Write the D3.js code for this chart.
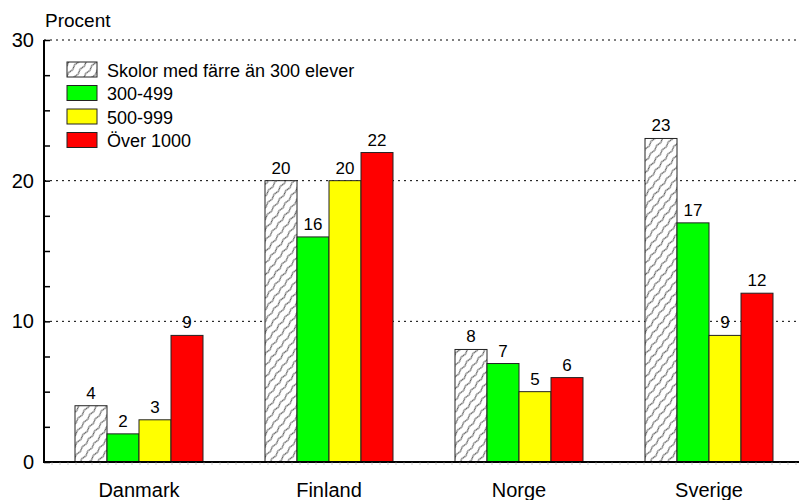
<!DOCTYPE html>
<html>
<head>
<meta charset="utf-8">
<script src="https://cdn.jsdelivr.net/npm/d3@7/dist/d3.min.js"></script>
<style>
body { margin: 0; background: #fff; }
text { font-family: Arial, "Liberation Sans", sans-serif; }
</style>
</head>
<body>
<svg width="799" height="500"></svg>
<script>
var countries = ["Danmark", "Finland", "Norge", "Sverige"];
var series = ["Skolor med färre än 300 elever", "300-499", "500-999", "Över 1000"];
var under300 = [4, 20, 8, 23];
var s300 = [2, 16, 7, 17];
var s500 = [3, 20, 5, 9];
var over1000 = [9, 22, 6, 12];
var yTicks = [0, 10, 20, 30];

var values = [under300, s300, s500, over1000];
var fills = ["url(#hatch)", "#00ff00", "#ffff00", "#ff0000"];

var svg = d3.select("svg");
var plotL = 44, plotR = 804, plotT = 40, plotB = 462;

var x = d3.scaleBand().domain(countries).range([plotL, plotR]);
var inner = d3.scaleBand().domain(d3.range(4)).range([0, 128]);
var y = d3.scaleLinear().domain([0, 30]).range([plotB, plotT]);

var defs = svg.append("defs");
var pat = defs.append("pattern")
    .attr("id", "hatch")
    .attr("patternUnits", "userSpaceOnUse")
    .attr("width", 7).attr("height", 10)
    .attr("patternTransform", "rotate(38)");
pat.append("rect").attr("width", 7).attr("height", 10).attr("fill", "#fff");
pat.append("path")
    .attr("d", "M1.5,0 Q3,2.5 1.5,5 Q0,7.5 1.5,10")
    .attr("stroke", "#333").attr("stroke-width", 0.9).attr("fill", "none");

// gridlines
svg.append("g").selectAll("line")
    .data(yTicks.filter(function (d) { return d > 0; }))
    .enter().append("line")
    .attr("x1", plotL).attr("x2", 799)
    .attr("y1", function (d) { return y(d); })
    .attr("y2", function (d) { return y(d); })
    .attr("stroke", "#000").attr("stroke-width", 1)
    .attr("stroke-dasharray", "2,4");

// bars
var groups = svg.append("g").selectAll("g")
    .data(countries)
    .enter().append("g")
    .attr("transform", function (d) { return "translate(" + (x(d) + x.bandwidth() / 2 - 64) + ",0)"; });

groups.each(function (c, ci) {
    var g = d3.select(this);
    values.forEach(function (arr, si) {
        var v = arr[ci];
        g.append("rect")
            .attr("x", inner(si))
            .attr("y", y(v))
            .attr("width", inner.bandwidth())
            .attr("height", y(0) - y(v))
            .attr("fill", fills[si])
            .attr("stroke", "#222").attr("stroke-width", 1);
        g.append("text")
            .attr("x", inner(si) + inner.bandwidth() / 2)
            .attr("y", y(v) - 7)
            .attr("text-anchor", "middle")
            .attr("font-size", 17)
            .text(v);
    });
});

// y axis
var yAxis = d3.axisLeft(y).tickValues(d3.range(0, 30.1, 2.5)).tickSize(-6).tickFormat("");
var ya = svg.append("g").attr("transform", "translate(" + plotL + ",0)").call(yAxis);
ya.select(".domain").remove();
ya.selectAll("line").attr("stroke", "#000").attr("stroke-width", 1.5);
svg.append("line").attr("x1", plotL).attr("x2", plotL).attr("y1", plotT).attr("y2", plotB + 1)
    .attr("stroke", "#000").attr("stroke-width", 2);

svg.append("g").selectAll("text")
    .data(yTicks)
    .enter().append("text")
    .attr("x", 34).attr("y", function (d) { return y(d) + 7; })
    .attr("text-anchor", "end").attr("font-size", 20)
    .text(function (d) { return d; });

// x axis baseline
svg.append("line").attr("x1", plotL).attr("x2", 799).attr("y1", plotB).attr("y2", plotB)
    .attr("stroke", "#000").attr("stroke-width", 2);
svg.append("g").selectAll("line")
    .data(d3.range(plotL + 8, 799, 8))
    .enter().append("line")
    .attr("x1", function (d) { return d; }).attr("x2", function (d) { return d; })
    .attr("y1", plotB).attr("y2", plotB + 3)
    .attr("stroke", "#999").attr("stroke-width", 0.5);

svg.append("g").selectAll("text")
    .data(countries)
    .enter().append("text")
    .attr("x", function (d) { return x(d) + x.bandwidth() / 2; })
    .attr("y", 497)
    .attr("text-anchor", "middle").attr("font-size", 20)
    .text(function (d) { return d; });

svg.append("text").attr("x", 45).attr("y", 27).attr("font-size", 19).text("Procent");

// legend
var legend = svg.append("g").selectAll("g")
    .data(series)
    .enter().append("g")
    .attr("transform", function (d, i) { return "translate(67," + (62 + i * 23.5) + ")"; });
legend.append("rect")
    .attr("width", 30).attr("height", 15)
    .attr("fill", function (d, i) { return fills[i]; })
    .attr("stroke", "#222").attr("stroke-width", 1);
legend.append("text")
    .attr("x", 40).attr("y", 14.5)
    .attr("font-size", 18)
    .text(function (d) { return d; });
</script>
</body>
</html>
